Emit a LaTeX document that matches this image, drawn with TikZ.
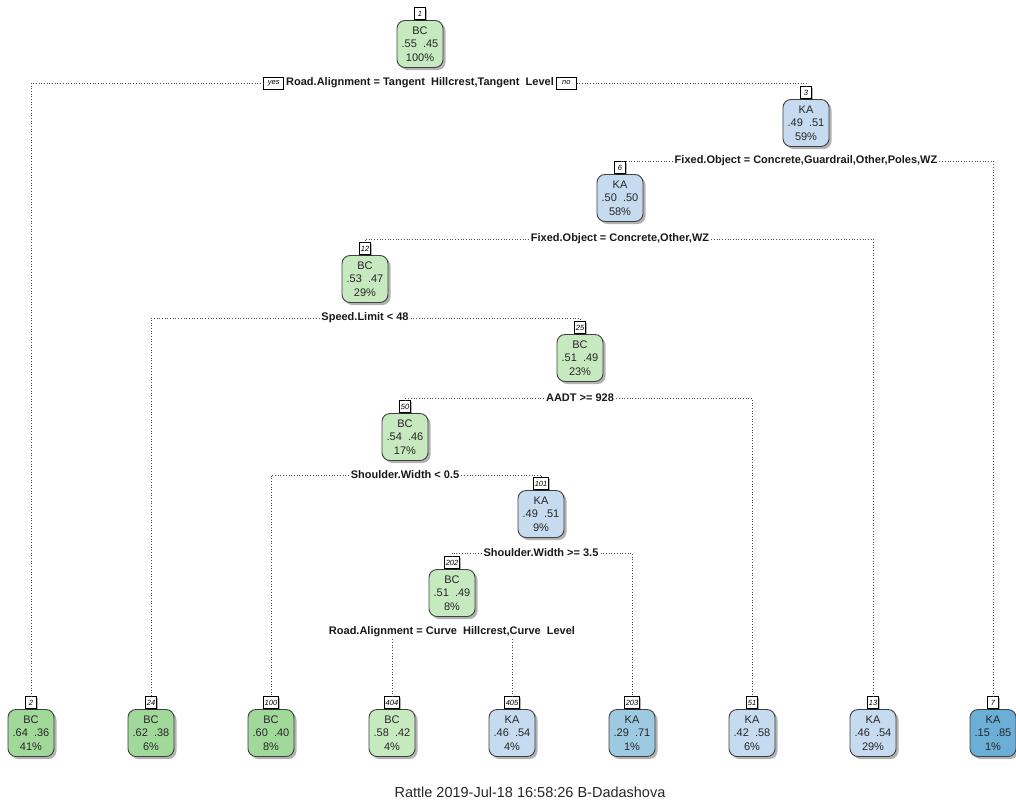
\documentclass[tikz,border=0pt]{standalone}
\usepackage{fontspec}
\setmainfont{Liberation Sans}
\usepackage{tikz}
\usetikzlibrary{positioning, shadows}
\definecolor{bclight}{HTML}{C7E9C0}
\definecolor{bcmid}{HTML}{A1D99B}
\definecolor{kalight}{HTML}{C6DBEF}
\definecolor{kamid}{HTML}{9ECAE1}
\definecolor{kadark}{HTML}{6BAED6}
\tikzset{
    treenode/.style={rectangle, rounded corners=8pt, draw=black!75, line width=0.9pt,
        minimum width=46pt, minimum height=47pt, inner sep=1pt, align=center,
        font=\fontsize{11}{13.5}\selectfont, text=black!85,
        drop shadow={shadow xshift=2.5pt, shadow yshift=-2.5pt, fill=black, opacity=0.3},
        label distance=0pt},
    nodetag/.style={draw=black, line width=0.6pt, fill=white, inner sep=1pt,
        minimum width=11pt, minimum height=12pt, font=\fontsize{7.5}{7.5}\selectfont\itshape,
        drop shadow={shadow xshift=1.5pt, shadow yshift=-1.5pt, fill=black, opacity=0.3}},
    splitlab/.style={inner sep=2pt, font=\fontsize{11}{11}\selectfont\bfseries, text=black!90},
    yesno/.style={draw=black, line width=0.6pt, fill=white, inner sep=1pt,
        minimum width=20pt, minimum height=12pt, font=\fontsize{7.5}{7.5}\selectfont\itshape},
    branch/.style={dotted, line width=0.7pt, black!70}
}
\begin{document}
\begin{tikzpicture}[x=1pt, y=-1pt]
    \useasboundingbox (0,0) rectangle (1016,801);

    % inner nodes
    \node[treenode, fill=bclight, label={[nodetag, name=t1]above:1}] (n1) at (420,44) {BC\\.55~~.45\\100\%};
    \node[treenode, fill=kalight, label={[nodetag, name=t3]above:3}] (n3) at (806,123) {KA\\.49~~.51\\59\%};
    \node[treenode, fill=kalight, label={[nodetag, name=t6]above:6}] (n6) at (620,198) {KA\\.50~~.50\\58\%};
    \node[treenode, fill=bclight, label={[nodetag, name=t12]above:12}] (n12) at (365,279) {BC\\.53~~.47\\29\%};
    \node[treenode, fill=bclight, label={[nodetag, name=t25]above:25}] (n25) at (580,358) {BC\\.51~~.49\\23\%};
    \node[treenode, fill=bclight, label={[nodetag, name=t50]above:50}] (n50) at (405,437) {BC\\.54~~.46\\17\%};
    \node[treenode, fill=kalight, label={[nodetag, name=t101]above:101}] (n101) at (541,514) {KA\\.49~~.51\\9\%};
    \node[treenode, fill=bclight, label={[nodetag, name=t202]above:202}] (n202) at (452,593) {BC\\.51~~.49\\8\%};

    % leaves
    \foreach \id/\x/\cls/\pa/\pb/\pct/\col in {
        2/31/BC/.64/.36/41/bcmid, 24/151/BC/.62/.38/6/bcmid, 100/271/BC/.60/.40/8/bcmid,
        404/392/BC/.58/.42/4/bclight, 405/512/KA/.46/.54/4/kalight, 203/632/KA/.29/.71/1/kamid,
        51/752/KA/.42/.58/6/kalight, 13/873/KA/.46/.54/29/kalight, 7/993/KA/.15/.85/1/kadark}
        \node[treenode, fill=\col, label={[nodetag, name=t\id]above:\id}] (n\id) at (\x,733) {\cls\\\pa~~\pb\\\pct\%};

    % split labels
    \node[splitlab] (s1) at (420,83) {Road.Alignment = Tangent~~Hillcrest,Tangent~~Level};
    \node[yesno, left=0pt of s1] (yes) {yes};
    \node[yesno, right=0pt of s1] (no) {no};
    \node[splitlab] (s3) at (806,161) {Fixed.Object = Concrete,Guardrail,Other,Poles,WZ};
    \node[splitlab] (s6) at (620,239) {Fixed.Object = Concrete,Other,WZ};
    \node[splitlab] (s12) at (365,318) {Speed.Limit < 48};
    \node[splitlab] (s25) at (580,398) {AADT >= 928};
    \node[splitlab] (s50) at (405,475) {Shoulder.Width < 0.5};
    \node[splitlab] (s101) at (541,553) {Shoulder.Width >= 3.5};
    \node[splitlab] (s202) at (452,632) {Road.Alignment = Curve~~Hillcrest,Curve~~Level};

    % branches
    \draw[branch] (yes.west) -| (t2.north);
    \draw[branch] (no.east) -| (t3.north);
    \draw[branch] (s3.west) -| (t6.north);
    \draw[branch] (s3.east) -| (t7.north);
    \draw[branch] (s6.west) -| (t12.north);
    \draw[branch] (s6.east) -| (t13.north);
    \draw[branch] (s12.west) -| (t24.north);
    \draw[branch] (s12.east) -| (t25.north);
    \draw[branch] (s25.west) -| (t50.north);
    \draw[branch] (s25.east) -| (t51.north);
    \draw[branch] (s50.west) -| (t100.north);
    \draw[branch] (s50.east) -| (t101.north);
    \draw[branch] (s101.west) -| (t202.north);
    \draw[branch] (s101.east) -| (t203.north);
    \draw[branch] (t404.north |- s202.south) -- (t404.north);
    \draw[branch] (t405.north |- s202.south) -- (t405.north);

    \node[font=\fontsize{14.5}{14.5}\selectfont, text=black!85] (footer) at (530,792) {Rattle 2019-Jul-18 16:58:26 B-Dadashova};
\end{tikzpicture}
\end{document}
